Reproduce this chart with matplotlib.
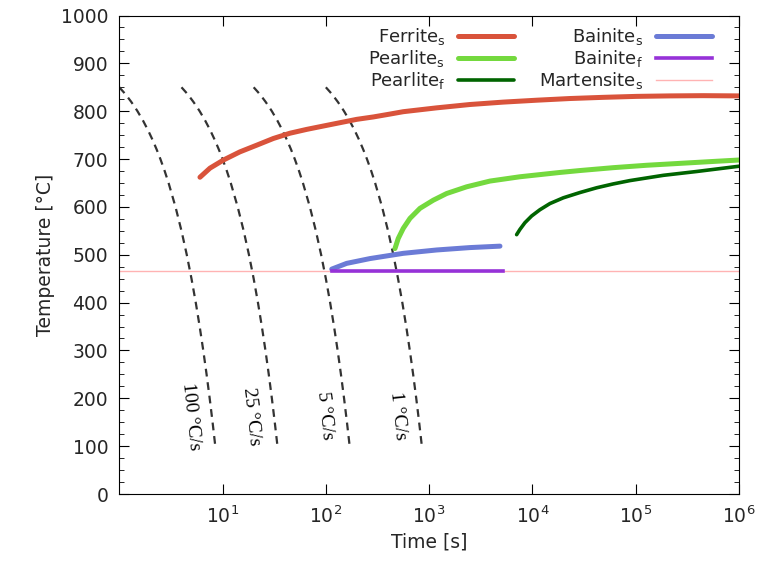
import matplotlib
matplotlib.use("Agg")
import matplotlib.pyplot as plt

# cooling curves: temperature levels and times for each rate
cool_temp = [850, 840, 830, 820, 810, 800, 780, 760, 740, 720, 700, 675, 650, 600,
             550, 500, 450, 400, 350, 300, 250, 200, 150, 100]
cool_t100 = [1.0, 1.1, 1.2, 1.3, 1.4, 1.5, 1.7, 1.9, 2.1, 2.3, 2.5, 2.75, 3.0, 3.5,
             4.0, 4.5, 5.0, 5.5, 6.0, 6.5, 7.0, 7.5, 8.0, 8.5]
cool_t25 = [4.0, 4.4, 4.8, 5.2, 5.6, 6.0, 6.8, 7.6, 8.4, 9.2, 10, 11, 12, 14,
            16, 18, 20, 22, 24, 26, 28, 30, 32, 34]
cool_t5 = [20, 22, 24, 26, 28, 30, 34, 38, 42, 46, 50, 55, 60, 70,
           80, 90, 100, 110, 120, 130, 140, 150, 160, 170]
cool_t1 = [100, 110, 120, 130, 140, 150, 170, 190, 210, 230, 250, 275, 300, 350,
           400, 450, 500, 550, 600, 650, 700, 750, 800, 850]
cool_labels = ["100 °C/s", "25 °C/s", "5 °C/s", "1 °C/s"]
cool_label_t = [4.9, 19.0, 98, 500]
cool_label_T = 163

ferrite_s_t = [6.04, 7.55, 10.2, 14.7, 21.4, 31, 44.9, 65.2, 94.4, 137, 199, 288,
               417, 562, 1180, 2480, 5200, 11000, 23000, 48600, 102000, 214000,
               450000, 1e6]
ferrite_s_T = [662, 681, 698, 715, 729, 743, 754, 762, 769, 776, 783, 788,
               794, 799, 807, 814, 819, 823, 826.5, 829, 831, 832, 832.5, 832]

pearlite_s_t = [467, 502, 561, 652, 815, 1096, 1477, 2306, 3880, 7570, 18450,
                28800, 60500, 127000, 268000, 563000, 1e6]
pearlite_s_T = [513, 534, 555, 576, 597, 614, 628, 642, 654, 663, 672,
                676, 682, 687, 691, 695, 698]

pearlite_f_t = [7030, 7570, 8460, 9820, 11800, 14770, 19900, 28800, 41900, 60500,
                87900, 185000, 389000, 1e6]
pearlite_f_T = [542, 553, 567, 581, 594, 607, 619, 630, 640, 648,
                655, 666, 674, 685]

bainite_s_t = [114, 159, 267, 562, 1183, 2483, 4850]
bainite_s_T = [470, 482, 492, 503, 510, 515, 518]

bainite_f_t = [114, 5216]
bainite_f_T = [467, 467]

martensite_s_t = [1, 1e6]
martensite_s_T = [467, 467]

fig = plt.figure(figsize=(7.57, 5.64), dpi=100)
ax = fig.add_axes([0.1576, 0.1241, 0.8186, 0.8484])

# cooling paths
for ts in [cool_t100, cool_t25, cool_t5, cool_t1]:
    ax.plot(ts, cool_temp, color="#333333", lw=1.6, dashes=(3.5, 2.6))
for lab, tx in zip(cool_labels, cool_label_t):
    ax.text(tx, cool_label_T, lab, rotation=-84, ha="center", va="center",
            family="Liberation Serif", fontsize=14, color="black")

thick = dict(solid_capstyle="round")
ax.plot(ferrite_s_t, ferrite_s_T, color="#d9533b", lw=3.6,
        label=r"Ferrite$_{\mathrm{s}}$", **thick)
ax.plot(pearlite_s_t, pearlite_s_T, color="#74d93e", lw=3.6,
        label=r"Pearlite$_{\mathrm{s}}$", **thick)
ax.plot(pearlite_f_t, pearlite_f_T, color="#006400", lw=2.6,
        label=r"Pearlite$_{\mathrm{f}}$", **thick)
ax.plot(bainite_s_t, bainite_s_T, color="#6b7bd6", lw=3.6,
        label=r"Bainite$_{\mathrm{s}}$", **thick)
ax.plot(bainite_f_t, bainite_f_T, color="#9632d8", lw=2.6,
        label=r"Bainite$_{\mathrm{f}}$")
ax.plot(martensite_s_t, martensite_s_T, color="#ffb3b3", lw=1.0, zorder=1,
        label=r"Martensite$_{\mathrm{s}}$")

ax.set_xscale("log")
ax.set_xlim(1, 1e6)
ax.set_ylim(0, 1000)
ax.set_xticks([10, 100, 1000, 1e4, 1e5, 1e6])
ax.xaxis.set_minor_locator(matplotlib.ticker.NullLocator())
ax.set_yticks(range(0, 1001, 100))
ax.yaxis.set_minor_locator(matplotlib.ticker.MultipleLocator(25))
ax.tick_params(which="both", direction="in", top=True, right=True,
               labelsize=13.5, labelcolor="#262626")
ax.tick_params(which="major", length=7, pad=8)
ax.tick_params(which="minor", length=3.5)
ax.set_xlabel("Time [s]", fontsize=13.5, color="#262626")
ax.set_ylabel("Temperature [°C]", fontsize=13.5, color="#262626")

ax.legend(loc="upper right", bbox_to_anchor=(0.997, 1.03), ncol=2,
          markerfirst=False, frameon=False, fontsize=13, handlelength=3.1,
          handletextpad=0.7, columnspacing=1.4, labelspacing=0.05,
          borderaxespad=1.0, labelcolor="#262626")

fig.savefig("out.png", dpi=100)
